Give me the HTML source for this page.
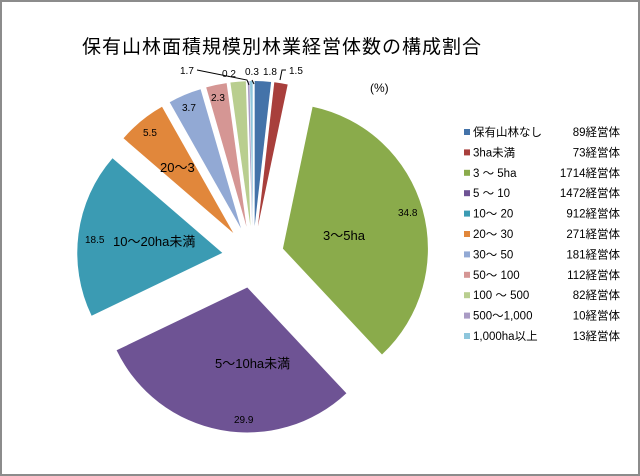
<!DOCTYPE html>
<html><head><meta charset="utf-8"><style>
html,body{margin:0;padding:0;background:#fff;}
#c{position:relative;width:636px;height:472px;border:2px solid #8c8c8c;overflow:hidden;}
svg{position:absolute;left:-2px;top:-2px;}
text{font-family:"Liberation Sans","Noto Sans CJK JP",sans-serif;fill:#000;}
</style></head><body><div id="c">
<svg id="s" width="640" height="476" viewBox="0 0 640 476">
<g id="pie"></g>
<text x="82" y="53" font-size="19" letter-spacing="1">保有山林面積規模別林業経営体数の構成割合</text>
<text x="370" y="92" font-size="12">(%)</text>
<polyline points="197,70 247,80 249,85" fill="none" stroke="#000" stroke-width="1"/>
<polyline points="252,80 254,84" fill="none" stroke="#000" stroke-width="1"/>
<polyline points="286,70 282,70 280,80" fill="none" stroke="#000" stroke-width="1"/>
<text x="180" y="74" font-size="10">1.7</text>
<text x="222" y="77" font-size="10">0.2</text>
<text x="245" y="75" font-size="10">0.3</text>
<text x="263" y="75" font-size="10">1.8</text>
<text x="289" y="74" font-size="10">1.5</text>
<text x="211" y="101" font-size="10">2.3</text>
<text x="182" y="111" font-size="10">3.7</text>
<text x="143" y="136" font-size="10">5.5</text>
<text x="160" y="172" font-size="13">20～3</text>
<text x="85" y="243" font-size="10">18.5</text>
<text x="113" y="246" font-size="13">10～20ha未満</text>
<text x="323" y="240" font-size="13">3～5ha</text>
<text x="398" y="216" font-size="10">34.8</text>
<text x="215" y="368" font-size="13">5～10ha未満</text>
<text x="234" y="423" font-size="10">29.9</text>
<g font-size="11.5" id="leg"></g>
</svg></div>
<script>
var vals=[1.8,1.5,34.8,29.9,18.5,5.5,3.7,2.3,1.7,0.2,0.3];
var cols=["#4473a9","#a83f3c","#8aab4b","#6e5394","#3b9bb3","#e1873b","#92a9d4","#d59694","#b9ce8f","#a99bc4","#8ec6dc"];
var tot=0;vals.forEach(function(v){tot+=v;});
var cx=253,cy=257,R=145,d=31,a=0,g=document.getElementById("pie"),h="";
function P(t,r,ox,oy){return [ox+r*Math.sin(t),oy-r*Math.cos(t)];}
vals.forEach(function(v,i){
 var a0=a/tot*2*Math.PI,a1=(a+v)/tot*2*Math.PI,m=(a0+a1)/2;a+=v;
 var ox=cx+d*Math.sin(m),oy=cy-d*Math.cos(m);
 var p0=P(a0,R,ox,oy),p1=P(a1,R,ox,oy);
 h+='<path fill="'+cols[i]+'" d="M'+ox.toFixed(1)+','+oy.toFixed(1)+'L'+p0[0].toFixed(1)+','+p0[1].toFixed(1)+'A'+R+','+R+' 0 '+((a1-a0)>Math.PI?1:0)+' 1 '+p1[0].toFixed(1)+','+p1[1].toFixed(1)+'Z"/>';
});
g.innerHTML=h;
var names=["保有山林なし","3ha未満","3 ～ 5ha","5 ～ 10","10～ 20","20～ 30","30～ 50","50～ 100","100 ～ 500","500～1,000","1,000ha以上"];
var cnt=["89経営体","73経営体","1714経営体","1472経営体","912経営体","271経営体","181経営体","112経営体","82経営体","10経営体","13経営体"];
var L="";
for(var i=0;i<11;i++){var y=132+i*20.4;
 L+='<rect x="464" y="'+(y-3)+'" width="6" height="6" fill="'+cols[i]+'"/>';
 L+='<text x="473" y="'+(y+4)+'">'+names[i]+'</text>';
 L+='<text x="620" y="'+(y+4)+'" text-anchor="end">'+cnt[i]+'</text>';}
document.getElementById("leg").innerHTML=L;
</script>
</body></html>
